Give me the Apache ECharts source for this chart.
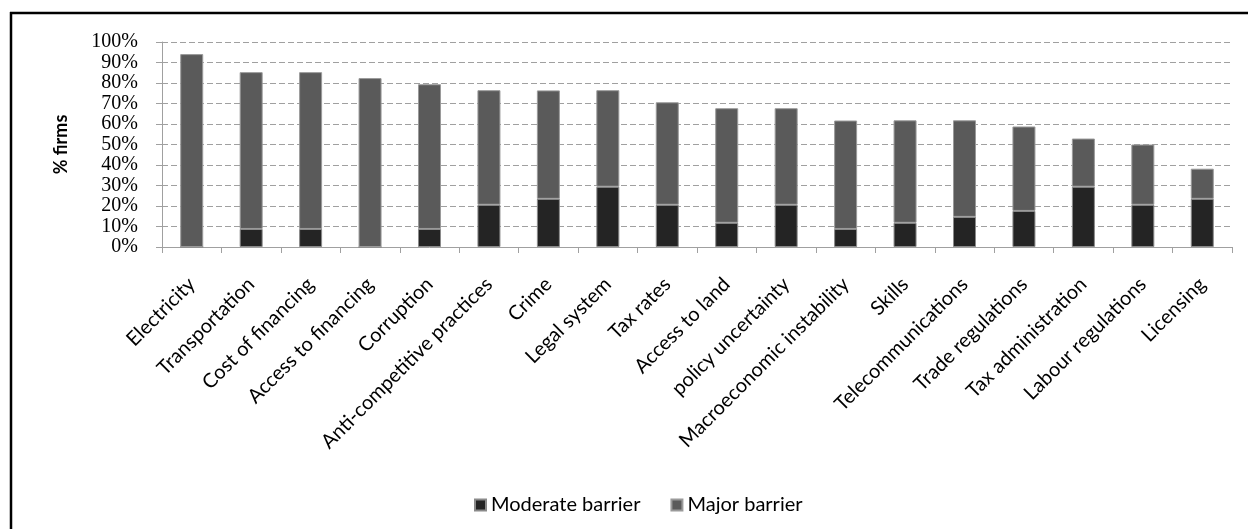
<!DOCTYPE html>
<html>
<head>
<meta charset="utf-8">
<script src="https://cdn.jsdelivr.net/npm/echarts@6/dist/echarts.min.js"></script>
<style>
  html, body { margin: 0; padding: 0; background: #ffffff; }
  #chart { width: 1248px; height: 529px; }
</style>
</head>
<body>
<div id="chart"></div>
<script>
// Obstacles to business, share of firms (%) rating each as a barrier
const categories = [
  'Electricity', 'Transportation', 'Cost of financing', 'Access to financing',
  'Corruption', 'Anti-competitive practices', 'Crime', 'Legal system',
  'Tax rates', 'Access to land', 'policy uncertainty', 'Macroeconomic instability',
  'Skills', 'Telecommunications', 'Trade regulations', 'Tax administration',
  'Labour regulations', 'Licensing'
];
const moderateBarrier = [0, 8.8, 8.8, 0, 8.8, 20.6, 23.5, 29.4, 20.6, 11.8, 20.6, 8.8, 11.8, 14.7, 17.6, 29.4, 20.6, 23.5];
const majorBarrier = [94.1, 76.5, 76.5, 82.4, 70.6, 55.9, 52.9, 47.1, 50.0, 55.9, 47.1, 52.9, 50.0, 47.1, 41.2, 23.5, 29.4, 14.7];
const yMin = 0, yMax = 100, yStep = 10;

const axisGray = '#a0a0a0';
const sansFont = 'Lato';

const chart = echarts.init(document.getElementById('chart'), null, { renderer: 'canvas' });

chart.setOption({
  backgroundColor: '#ffffff',
  animation: false,
  grid: { left: 162, right: 16, top: 42, bottom: 282, containLabel: false },
  legend: {
    left: 469,
    top: 490,
    itemWidth: 11,
    itemHeight: 11,
    itemGap: 30,
    icon: 'rect',
    textStyle: { fontFamily: sansFont, fontSize: 20, color: '#000000' },
    data: ['Moderate barrier', 'Major barrier']
  },
  xAxis: {
    type: 'category',
    data: categories,
    axisLine: { lineStyle: { color: axisGray, width: 1 } },
    axisTick: { show: true, length: 6, lineStyle: { color: axisGray } },
    axisLabel: {
      rotate: 45,
      margin: 34,
      interval: 0,
      fontFamily: sansFont,
      fontSize: 20,
      color: '#000000'
    }
  },
  yAxis: {
    type: 'value',
    min: yMin,
    max: yMax,
    interval: yStep,
    name: '% firms',
    nameLocation: 'middle',
    nameGap: 92,
    nameRotate: 90,
    nameTextStyle: { fontFamily: sansFont, fontSize: 18, fontWeight: 'bold', color: '#000000' },
    axisLine: { show: true, lineStyle: { color: axisGray, width: 1 } },
    axisTick: { show: true, length: 6, lineStyle: { color: axisGray } },
    axisLabel: {
      formatter: '{value}%',
      margin: 24,
      fontFamily: '"Liberation Serif", serif',
      fontSize: 20,
      color: '#000000'
    },
    splitLine: { show: true, lineStyle: { color: axisGray, width: 1, type: [6, 3] } }
  },
  series: [
    {
      name: 'Moderate barrier',
      type: 'bar',
      stack: 'total',
      barWidth: 23,
      data: moderateBarrier,
      itemStyle: { color: '#242424', borderColor: '#8a8a8a', borderWidth: 1 }
    },
    {
      name: 'Major barrier',
      type: 'bar',
      stack: 'total',
      barWidth: 23,
      data: majorBarrier,
      itemStyle: { color: '#5a5a5a', borderColor: '#9a9a9a', borderWidth: 1 }
    }
  ],
  graphic: [
    { type: 'line', shape: { x1: 10, y1: 13, x2: 1248, y2: 13 }, style: { stroke: '#000000', lineWidth: 2.5 } },
    { type: 'line', shape: { x1: 11, y1: 12, x2: 11, y2: 529 }, style: { stroke: '#000000', lineWidth: 2.5 } }
  ]
});
</script>
</body>
</html>
